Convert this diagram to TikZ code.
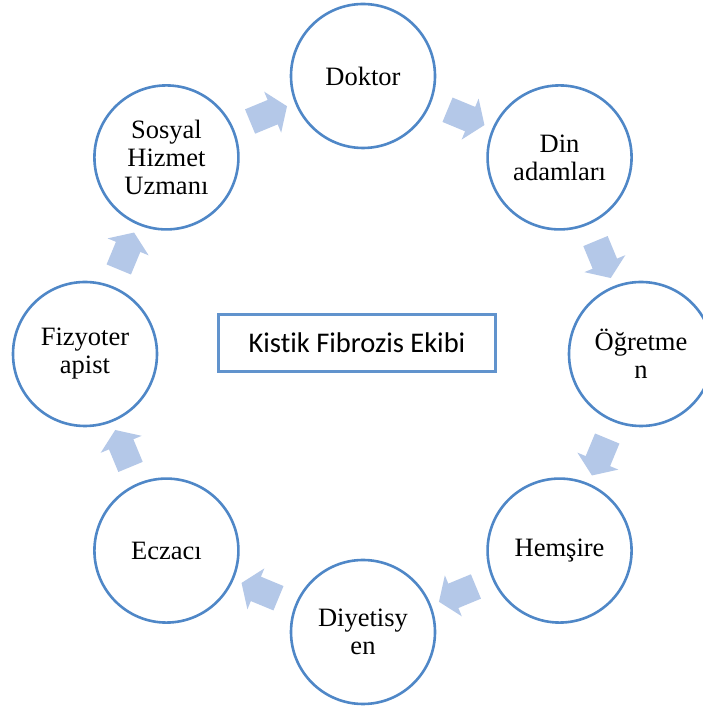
\documentclass[tikz,border=0pt]{standalone}
\usepackage{fontspec}
\setmainfont{Liberation Serif}
\newfontfamily\calibri[Ligatures=NoCommon]{Carlito}
\usetikzlibrary{shapes.arrows,calc}
\definecolor{cizgi}{RGB}{79,135,199}
\definecolor{ok}{RGB}{180,200,232}

\begin{document}
\begin{tikzpicture}[x=1pt,y=1pt,
  uye/.style={circle,draw=cizgi,line width=2.6pt,fill=white,minimum size=144pt,inner sep=0pt,
    align=center,font=\fontsize{26.5}{28}\selectfont},
  blok/.style={single arrow,fill=ok,draw=none,inner xsep=0pt,inner ysep=13pt,minimum height=40pt,
    single arrow head extend=9pt,single arrow tip angle=110}]
  \useasboundingbox (0,0) rectangle (703,706);
  \coordinate (C) at (363,352);
  \node[uye] (dr) at ($(C)+(90:278)$) {Doktor};
  \node[uye] (din) at ($(C)+(45:278)$) {Din\\adamları};
  \node[uye] (ogr) at ($(C)+(0:278)$) {Öğretme\\n};
  \node[uye] (hem) at ($(C)+(-45:278)$) {Hemşire};
  \node[uye] (diy) at ($(C)+(-90:278)$) {Diyetisy\\en};
  \node[uye] (ecz) at ($(C)+(-135:278)$) {Eczacı};
  \node[uye] (fiz) at ($(C)+(180:278)$) {Fizyoter\\apist};
  \node[uye] (sos) at ($(C)+(135:278)$) {Sosyal\\Hizmet\\Uzmanı};
  % oklar
  \node[blok,rotate=22.5] (o1) at ($(C)+(112.5:258)$) {};
  \node[blok,rotate=-22.5] (o2) at ($(C)+(67.5:258)$) {};
  \node[blok,rotate=-67.5] (o3) at ($(C)+(22.5:258)$) {};
  \node[blok,rotate=-112.5] (o4) at ($(C)+(-22.5:258)$) {};
  \node[blok,rotate=-157.5] (o5) at ($(C)+(-67.5:258)$) {};
  \node[blok,rotate=157.5] (o6) at ($(C)+(-112.5:258)$) {};
  \node[blok,rotate=112.5] (o7) at ($(C)+(-157.5:258)$) {};
  \node[blok,rotate=67.5] (o8) at ($(C)+(157.5:258)$) {};
  \node[draw=cizgi!90,line width=2.2pt,minimum width=277pt,minimum height=57pt,
    font=\calibri\fontsize{28.5}{30}\selectfont] (ekip) at (357,363) {Kistik Fibrozis Ekibi};
\end{tikzpicture}
\end{document}
